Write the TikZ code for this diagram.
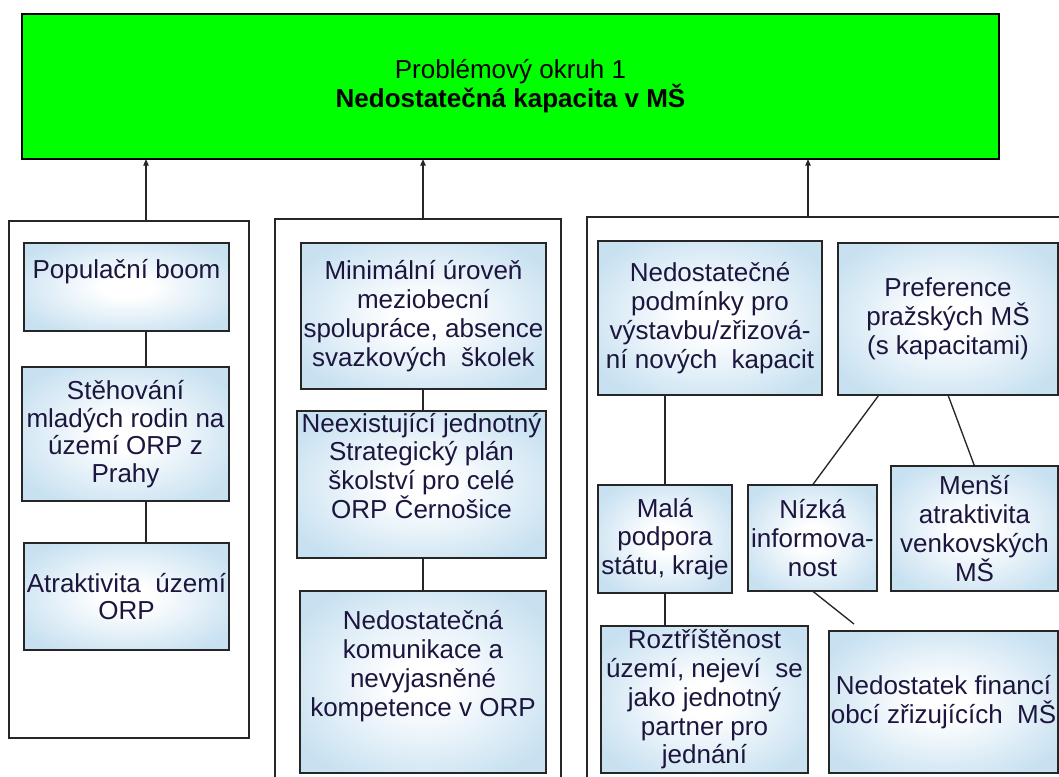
\documentclass[tikz,border=0pt]{standalone}
\usepackage{fontspec}
\setmainfont{Liberation Sans}
\usetikzlibrary{arrows.meta,calc}
\definecolor{boxblue}{RGB}{200,225,241}
\definecolor{txt}{RGB}{28,22,62}
\definecolor{okgreen}{RGB}{0,255,0}
\newdimen\px \px=0.75pt
\pgfdeclareradialshading{glow}{\pgfpoint{0bp}{0bp}}{color(0bp)=(white); color(6bp)=(white); color(30bp)=(boxblue); color(50bp)=(boxblue)}
\begin{document}
\begin{tikzpicture}[x=0.75pt,y=-0.75pt,
  cause/.style={draw=black!85, line width=1pt, shade, shading=glow, inner sep=0pt, outer sep=0pt, align=center, text=txt, font=\fontsize{19.5}{21.6}\selectfont},
  leftcause/.style={cause, font=\fontsize{19.5}{20.6}\selectfont},
  panel/.style={draw=black!85, line width=0.9pt, fill=white, inner sep=0pt, outer sep=0pt},
  link/.style={draw=black!85, line width=1pt},
  up/.style={link, -{Triangle[length=5pt,width=4pt]}}]
\useasboundingbox (0,0) rectangle (1059,776);
\clip (0,0) rectangle (1059,776);
\fill[white] (0,0) rectangle (1059,776);

% main problem
\node[draw=black, line width=1.2pt, fill=okgreen, minimum width=977\px, minimum height=145\px, inner sep=0pt, outer sep=0pt, align=center, font=\fontsize{19.5}{21.8}\selectfont] (top) at (510.5,86.5) {Problémový okruh 1\\\textbf{Nedostatečná kapacita v MŠ}};

% panels
\node[panel, minimum width=240\px, minimum height=517\px] (lp) at (129,479.5) {};
\node[panel, minimum width=286\px, minimum height=600\px] (mp) at (418,519) {};
\node[panel, minimum width=520\px, minimum height=600\px] (rp) at (847,517) {};

\coordinate (a1) at (146,221);
\coordinate (a2) at (423,219);
\coordinate (a3) at (808,217);
\draw[up] (a1) -- (a1 |- top.south);
\draw[up] (a2) -- (a2 |- top.south);
\draw[up] (a3) -- (a3 |- top.south);

% left column
\node[leftcause, minimum width=205\px, minimum height=88\px] (pop) at (126.5,287) {Populační boom\\\strut};
\node[leftcause, minimum width=207\px, minimum height=134\px] (steh) at (125.5,434) {Stěhování\\mladých rodin na\\území ORP z\\Prahy};
\node[leftcause, minimum width=205\px, minimum height=107\px] (atr) at (126.5,596.5) {Atraktivita\ \ území\\ORP};

% middle column
\node[cause, minimum width=245\px, minimum height=146\px] (mini) at (423.5,316) {Minimální úroveň\\meziobecní\\spolupráce, absence\\svazkových\ \ školek};
\node[cause, minimum width=249\px, minimum height=147\px] (neex) at (421.5,484.5) {Neexistující jednotný\\Strategický plán\\školství pro celé\\ORP Černošice\\\strut};
\node[cause, minimum width=246\px, minimum height=182\px] (kom) at (423,682) {Nedostatečná\\komunikace a\\nevyjasněné\\kompetence v ORP\\\strut};

% right column
\node[cause, minimum width=224\px, minimum height=154\px] (podm) at (710,318) {Nedostatečné\\podmínky pro\\výstavbu/zřizová-\\ní nových\ \ kapacit};
\node[cause, minimum width=220\px, minimum height=152\px] (pref) at (948,319) {Preference\\pražských MŠ\\(s kapacitami)};
\node[cause, minimum width=134\px, minimum height=108\px] (mala) at (665,539) {Malá\\podpora\\státu, kraje};
\node[cause, minimum width=129\px, minimum height=106\px] (nizka) at (812.5,538) {Nízká\\informova-\\nost};
\node[cause, minimum width=167\px, minimum height=125\px] (mensi) at (974.5,528.5) {Menší\\atraktivita\\venkovských\\MŠ};
\node[cause, minimum width=207\px, minimum height=147\px] (roz) at (704.5,699.5) {Roztříštěnost\\území, nejeví\ \ se\\jako jednotný\\partner pro\\jednání};
\node[cause, minimum width=229\px, minimum height=142\px] (fin) at (943.5,702) {Nedostatek financí\\obcí zřizujících\ \ MŠ};

% connectors
\draw[link] (pop.south -| a1) -- (steh.north -| a1);
\draw[link] (steh.south -| a1) -- (atr.north -| a1);
\draw[link] (mini.south -| a2) -- (neex.north -| a2);
\draw[link] (neex.south -| a2) -- (kom.north -| a2);
\draw[link] (mala.north) -- (mala.north |- podm.south);
\draw[link] ($(pref.south west)!0.186!(pref.south east)$) -- (nizka.north);
\draw[link] (pref.south) -- (mensi.north);
\draw[link] (mala.south) -- (mala.south |- roz.north);
\coordinate (nzend) at (854,624);
\draw[link] (nizka.south) -- (nzend);
\end{tikzpicture}
\end{document}
